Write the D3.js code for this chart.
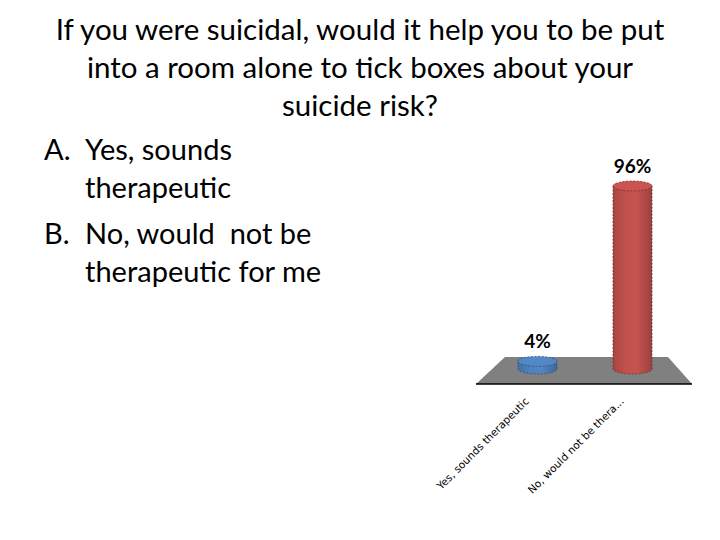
<!DOCTYPE html>
<html><head><meta charset="utf-8">
<script src="https://cdn.jsdelivr.net/npm/d3@7"></script>
<style>html,body{margin:0;padding:0;background:#fff} text{white-space:pre}</style>
</head><body>
<svg id="c" width="720" height="540"></svg>
<script>
const titleLines = ["If you were suicidal, would it help you to be put", "into a room alone to tick boxes about your", "suicide risk?"];
const optionLabels = ["A.", "B."];
const optionLines = [["Yes, sounds", "therapeutic"], ["No, would  not be", "therapeutic for me"]];
const categories = ["Yes, sounds therapeutic", "No, would not be thera..."];
const values = [4, 96];
const valueLabels = ["4%", "96%"];
const colors = ["#4F81BD", "#C0504D"];

const svg = d3.select("#c");
const font = "Lato, 'Open Sans', sans-serif";

// title
svg.append("g").selectAll("text").data(titleLines).join("text")
  .attr("x", 360).attr("y", (d, i) => 40 + i * 38)
  .attr("text-anchor", "middle").attr("font-family", font).attr("font-size", 29.5)
  .attr("fill", "#000").text(d => d);

// options list
optionLines.forEach((lines, k) => {
  svg.append("text").attr("x", 44).attr("y", 160 + k * 84)
    .attr("font-family", font).attr("font-size", 29).text(optionLabels[k]);
  lines.forEach((l, j) => {
    svg.append("text").attr("x", 85).attr("y", 160 + k * 84 + j * 38)
      .attr("font-family", font).attr("font-size", 29).text(l);
  });
});

// chart
const x = d3.scaleBand().domain(categories).range([490, 680]).paddingInner(0.2).paddingOuter(0.1);
const y = d3.scaleLinear().domain([0, 100]).range([369, 178.4]);
const rx = 19.5, ry = 5;

// floor
svg.append("path")
  .attr("d", "M505,357 L668,357 L692,384 L476,384 Z")
  .attr("fill", "#808080");
svg.append("line").attr("x1", 476).attr("x2", 692).attr("y1", 384).attr("y2", 384)
  .attr("stroke", "#000").attr("stroke-width", 1.5);

const defs = svg.append("defs");
colors.forEach((c, i) => {
  const g = defs.append("linearGradient").attr("id", "g" + i);
  const base = d3.color(c);
  g.append("stop").attr("offset", "0%").attr("stop-color", base.darker(0.4));
  g.append("stop").attr("offset", "30%").attr("stop-color", base);
  g.append("stop").attr("offset", "60%").attr("stop-color", base.brighter(0.1));
  g.append("stop").attr("offset", "100%").attr("stop-color", base.darker(0.6));
});

const bars = svg.append("g").selectAll("g").data(categories).join("g");
bars.each(function(d, i) {
  const g = d3.select(this);
  const cx = x(d) + x.bandwidth() / 2;
  const y0 = y(0), y1 = y(values[i]);
  const stroke = d3.color(colors[i]).darker(1.5);
  g.append("path")
    .attr("d", `M${cx - rx},${y1} L${cx - rx},${y0} A${rx},${ry} 0 0 0 ${cx + rx},${y0} L${cx + rx},${y1} Z`)
    .attr("fill", `url(#g${i})`).attr("stroke", stroke).attr("stroke-width", 0.8)
    .attr("stroke-dasharray", "2,1.5");
  g.append("ellipse").attr("cx", cx).attr("cy", y1).attr("rx", rx).attr("ry", ry)
    .attr("fill", d3.color(colors[i]).brighter(0.15)).attr("stroke", stroke)
    .attr("stroke-width", 0.8).attr("stroke-dasharray", "2,1.5");
  g.append("text").attr("x", cx).attr("y", y1 - 13).attr("text-anchor", "middle")
    .attr("font-family", font).attr("font-weight", "bold").attr("font-size", 19)
    .text(valueLabels[i]);
  g.append("text")
    .attr("transform", `translate(${cx - 8},${402}) rotate(-45)`)
    .attr("text-anchor", "end").attr("font-family", "'DejaVu Sans', sans-serif")
    .attr("font-size", 10.5).attr("fill", "#000").text(d);
});
</script>
</body></html>
